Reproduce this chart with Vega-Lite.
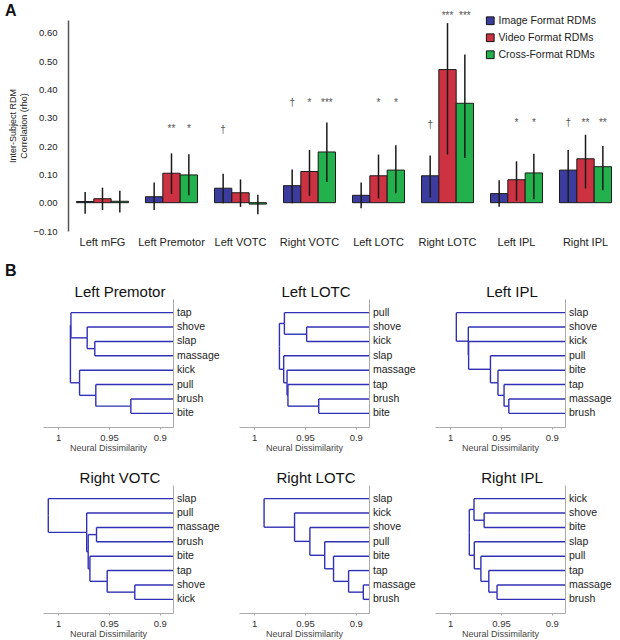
{
  "$schema": "https://vega.github.io/schema/vega-lite/v6.json",
  "padding": {"left": 5, "top": 3, "right": 0, "bottom": 0},
  "config": {
    "font": "Liberation Sans",
    "view": {"stroke": null},
    "title": {"color": "#111", "fontWeight": "normal"},
    "axis": {"labelOverlap": false},
    "axisY": {"labelOverlap": false, "labelSeparation": 0, "labelBound": false},
    "axisXQuantitative": {"domainColor": "#aaa", "domainWidth": 1, "tickColor": "#aaa", "tickSize": 2, "labelFontSize": 9.5, "labelColor": "#333", "labelPadding": 3, "titleFontSize": 9, "titleFontWeight": "normal", "titleColor": "#444", "titlePadding": 2, "grid": false},
    "axisRight": {"labels": false, "ticks": false, "domainColor": "#aaa", "domainWidth": 1, "title": null, "grid": false}
  },
  "datasets": {
    "bars": [
      {"region": "Left mFG", "format": "Image Format RDMs", "rho": 0.004, "lo": -0.039, "hi": 0.038, "sig": "", "sig_y": null},
      {"region": "Left mFG", "format": "Video Format RDMs", "rho": 0.014, "lo": -0.026, "hi": 0.053, "sig": "", "sig_y": null},
      {"region": "Left mFG", "format": "Cross-Format RDMs", "rho": 0.005, "lo": -0.035, "hi": 0.042, "sig": "", "sig_y": null},
      {"region": "Left Premotor", "format": "Image Format RDMs", "rho": 0.021, "lo": -0.026, "hi": 0.071, "sig": "", "sig_y": null},
      {"region": "Left Premotor", "format": "Video Format RDMs", "rho": 0.104, "lo": 0.031, "hi": 0.174, "sig": "**", "sig_y": 0.267},
      {"region": "Left Premotor", "format": "Cross-Format RDMs", "rho": 0.098, "lo": 0.026, "hi": 0.171, "sig": "*", "sig_y": 0.267},
      {"region": "Left VOTC", "format": "Image Format RDMs", "rho": 0.051, "lo": -0.002, "hi": 0.102, "sig": "†", "sig_y": 0.262},
      {"region": "Left VOTC", "format": "Video Format RDMs", "rho": 0.035, "lo": -0.015, "hi": 0.082, "sig": "", "sig_y": null},
      {"region": "Left VOTC", "format": "Cross-Format RDMs", "rho": -0.005, "lo": -0.041, "hi": 0.028, "sig": "", "sig_y": null},
      {"region": "Right VOTC", "format": "Image Format RDMs", "rho": 0.06, "lo": -0.002, "hi": 0.117, "sig": "†", "sig_y": 0.359},
      {"region": "Right VOTC", "format": "Video Format RDMs", "rho": 0.11, "lo": 0.024, "hi": 0.186, "sig": "*", "sig_y": 0.359},
      {"region": "Right VOTC", "format": "Cross-Format RDMs", "rho": 0.179, "lo": 0.073, "hi": 0.283, "sig": "***", "sig_y": 0.359},
      {"region": "Left LOTC", "format": "Image Format RDMs", "rho": 0.026, "lo": -0.02, "hi": 0.071, "sig": "", "sig_y": null},
      {"region": "Left LOTC", "format": "Video Format RDMs", "rho": 0.095, "lo": 0.015, "hi": 0.17, "sig": "*", "sig_y": 0.359},
      {"region": "Left LOTC", "format": "Cross-Format RDMs", "rho": 0.115, "lo": 0.033, "hi": 0.203, "sig": "*", "sig_y": 0.359},
      {"region": "Right LOTC", "format": "Image Format RDMs", "rho": 0.095, "lo": 0.018, "hi": 0.167, "sig": "†", "sig_y": 0.283},
      {"region": "Right LOTC", "format": "Video Format RDMs", "rho": 0.47, "lo": 0.17, "hi": 0.634, "sig": "***", "sig_y": 0.665},
      {"region": "Right LOTC", "format": "Cross-Format RDMs", "rho": 0.351, "lo": 0.158, "hi": 0.523, "sig": "***", "sig_y": 0.665},
      {"region": "Left IPL", "format": "Image Format RDMs", "rho": 0.032, "lo": -0.014, "hi": 0.079, "sig": "", "sig_y": null},
      {"region": "Left IPL", "format": "Video Format RDMs", "rho": 0.081, "lo": 0.007, "hi": 0.146, "sig": "*", "sig_y": 0.287},
      {"region": "Left IPL", "format": "Cross-Format RDMs", "rho": 0.105, "lo": 0.012, "hi": 0.173, "sig": "*", "sig_y": 0.287},
      {"region": "Right IPL", "format": "Image Format RDMs", "rho": 0.115, "lo": 0.002, "hi": 0.186, "sig": "†", "sig_y": 0.287},
      {"region": "Right IPL", "format": "Video Format RDMs", "rho": 0.155, "lo": 0.05, "hi": 0.24, "sig": "**", "sig_y": 0.287},
      {"region": "Right IPL", "format": "Cross-Format RDMs", "rho": 0.127, "lo": 0.044, "hi": 0.2, "sig": "**", "sig_y": 0.287}
    ],
    "links": [
      {"panel": "Left Premotor", "node_h": 0.9285, "child_h": 0.887, "child_pos": 7, "node_pos": 7.5},
      {"panel": "Left Premotor", "node_h": 0.9285, "child_h": 0.887, "child_pos": 8, "node_pos": 7.5},
      {"panel": "Left Premotor", "node_h": 0.963, "child_h": 0.887, "child_pos": 6, "node_pos": 6.75},
      {"panel": "Left Premotor", "node_h": 0.963, "child_h": 0.9285, "child_pos": 7.5, "node_pos": 6.75},
      {"panel": "Left Premotor", "node_h": 0.979, "child_h": 0.887, "child_pos": 5, "node_pos": 5.875},
      {"panel": "Left Premotor", "node_h": 0.979, "child_h": 0.963, "child_pos": 6.75, "node_pos": 5.875},
      {"panel": "Left Premotor", "node_h": 0.964, "child_h": 0.887, "child_pos": 3, "node_pos": 3.5},
      {"panel": "Left Premotor", "node_h": 0.964, "child_h": 0.887, "child_pos": 4, "node_pos": 3.5},
      {"panel": "Left Premotor", "node_h": 0.9715, "child_h": 0.887, "child_pos": 2, "node_pos": 2.75},
      {"panel": "Left Premotor", "node_h": 0.9715, "child_h": 0.964, "child_pos": 3.5, "node_pos": 2.75},
      {"panel": "Left Premotor", "node_h": 0.9875, "child_h": 0.887, "child_pos": 1, "node_pos": 1.875},
      {"panel": "Left Premotor", "node_h": 0.9875, "child_h": 0.9715, "child_pos": 2.75, "node_pos": 1.875},
      {"panel": "Left Premotor", "node_h": 0.988, "child_h": 0.9875, "child_pos": 1.875, "node_pos": 3.875},
      {"panel": "Left Premotor", "node_h": 0.988, "child_h": 0.979, "child_pos": 5.875, "node_pos": 3.875},

      {"panel": "Left LOTC", "node_h": 0.9484, "child_h": 0.887, "child_pos": 2, "node_pos": 2.5},
      {"panel": "Left LOTC", "node_h": 0.9484, "child_h": 0.887, "child_pos": 3, "node_pos": 2.5},
      {"panel": "Left LOTC", "node_h": 0.9703, "child_h": 0.887, "child_pos": 1, "node_pos": 1.75},
      {"panel": "Left LOTC", "node_h": 0.9703, "child_h": 0.9484, "child_pos": 2.5, "node_pos": 1.75},
      {"panel": "Left LOTC", "node_h": 0.9365, "child_h": 0.887, "child_pos": 7, "node_pos": 7.5},
      {"panel": "Left LOTC", "node_h": 0.9365, "child_h": 0.887, "child_pos": 8, "node_pos": 7.5},
      {"panel": "Left LOTC", "node_h": 0.9668, "child_h": 0.887, "child_pos": 6, "node_pos": 6.75},
      {"panel": "Left LOTC", "node_h": 0.9668, "child_h": 0.9365, "child_pos": 7.5, "node_pos": 6.75},
      {"panel": "Left LOTC", "node_h": 0.9677, "child_h": 0.887, "child_pos": 5, "node_pos": 5.875},
      {"panel": "Left LOTC", "node_h": 0.9677, "child_h": 0.9668, "child_pos": 6.75, "node_pos": 5.875},
      {"panel": "Left LOTC", "node_h": 0.971, "child_h": 0.887, "child_pos": 4, "node_pos": 4.9375},
      {"panel": "Left LOTC", "node_h": 0.971, "child_h": 0.9677, "child_pos": 5.875, "node_pos": 4.9375},
      {"panel": "Left LOTC", "node_h": 0.9752, "child_h": 0.9703, "child_pos": 1.75, "node_pos": 3.34375},
      {"panel": "Left LOTC", "node_h": 0.9752, "child_h": 0.971, "child_pos": 4.9375, "node_pos": 3.34375},

      {"panel": "Left IPL", "node_h": 0.9423, "child_h": 0.887, "child_pos": 7, "node_pos": 7.5},
      {"panel": "Left IPL", "node_h": 0.9423, "child_h": 0.887, "child_pos": 8, "node_pos": 7.5},
      {"panel": "Left IPL", "node_h": 0.947, "child_h": 0.887, "child_pos": 6, "node_pos": 6.75},
      {"panel": "Left IPL", "node_h": 0.947, "child_h": 0.9423, "child_pos": 7.5, "node_pos": 6.75},
      {"panel": "Left IPL", "node_h": 0.953, "child_h": 0.887, "child_pos": 5, "node_pos": 5.875},
      {"panel": "Left IPL", "node_h": 0.953, "child_h": 0.947, "child_pos": 6.75, "node_pos": 5.875},
      {"panel": "Left IPL", "node_h": 0.9604, "child_h": 0.887, "child_pos": 4, "node_pos": 4.9375},
      {"panel": "Left IPL", "node_h": 0.9604, "child_h": 0.953, "child_pos": 5.875, "node_pos": 4.9375},
      {"panel": "Left IPL", "node_h": 0.9819, "child_h": 0.887, "child_pos": 3, "node_pos": 3.969},
      {"panel": "Left IPL", "node_h": 0.9819, "child_h": 0.9604, "child_pos": 4.9375, "node_pos": 3.969},
      {"panel": "Left IPL", "node_h": 0.9822, "child_h": 0.887, "child_pos": 2, "node_pos": 2.984},
      {"panel": "Left IPL", "node_h": 0.9822, "child_h": 0.9819, "child_pos": 3.969, "node_pos": 2.984},
      {"panel": "Left IPL", "node_h": 0.994, "child_h": 0.887, "child_pos": 1, "node_pos": 1.992},
      {"panel": "Left IPL", "node_h": 0.994, "child_h": 0.9822, "child_pos": 2.984, "node_pos": 1.992},

      {"panel": "Right VOTC", "node_h": 0.9246, "child_h": 0.887, "child_pos": 7, "node_pos": 7.5},
      {"panel": "Right VOTC", "node_h": 0.9246, "child_h": 0.887, "child_pos": 8, "node_pos": 7.5},
      {"panel": "Right VOTC", "node_h": 0.9518, "child_h": 0.887, "child_pos": 6, "node_pos": 6.75},
      {"panel": "Right VOTC", "node_h": 0.9518, "child_h": 0.9246, "child_pos": 7.5, "node_pos": 6.75},
      {"panel": "Right VOTC", "node_h": 0.9688, "child_h": 0.887, "child_pos": 5, "node_pos": 5.875},
      {"panel": "Right VOTC", "node_h": 0.9688, "child_h": 0.9518, "child_pos": 6.75, "node_pos": 5.875},
      {"panel": "Right VOTC", "node_h": 0.9623, "child_h": 0.887, "child_pos": 3, "node_pos": 3.5},
      {"panel": "Right VOTC", "node_h": 0.9623, "child_h": 0.887, "child_pos": 4, "node_pos": 3.5},
      {"panel": "Right VOTC", "node_h": 0.9705, "child_h": 0.9623, "child_pos": 3.5, "node_pos": 4.6875},
      {"panel": "Right VOTC", "node_h": 0.9705, "child_h": 0.9688, "child_pos": 5.875, "node_pos": 4.6875},
      {"panel": "Right VOTC", "node_h": 0.972, "child_h": 0.887, "child_pos": 2, "node_pos": 3.34375},
      {"panel": "Right VOTC", "node_h": 0.972, "child_h": 0.9705, "child_pos": 4.6875, "node_pos": 3.34375},
      {"panel": "Right VOTC", "node_h": 1.0098, "child_h": 0.887, "child_pos": 1, "node_pos": 2.171875},
      {"panel": "Right VOTC", "node_h": 1.0098, "child_h": 0.972, "child_pos": 3.34375, "node_pos": 2.171875},

      {"panel": "Right LOTC", "node_h": 0.8926, "child_h": 0.887, "child_pos": 7, "node_pos": 7.5},
      {"panel": "Right LOTC", "node_h": 0.8926, "child_h": 0.887, "child_pos": 8, "node_pos": 7.5},
      {"panel": "Right LOTC", "node_h": 0.9071, "child_h": 0.887, "child_pos": 6, "node_pos": 6.75},
      {"panel": "Right LOTC", "node_h": 0.9071, "child_h": 0.8926, "child_pos": 7.5, "node_pos": 6.75},
      {"panel": "Right LOTC", "node_h": 0.9219, "child_h": 0.887, "child_pos": 5, "node_pos": 5.875},
      {"panel": "Right LOTC", "node_h": 0.9219, "child_h": 0.9071, "child_pos": 6.75, "node_pos": 5.875},
      {"panel": "Right LOTC", "node_h": 0.9306, "child_h": 0.887, "child_pos": 4, "node_pos": 4.9375},
      {"panel": "Right LOTC", "node_h": 0.9306, "child_h": 0.9219, "child_pos": 5.875, "node_pos": 4.9375},
      {"panel": "Right LOTC", "node_h": 0.9452, "child_h": 0.887, "child_pos": 3, "node_pos": 3.969},
      {"panel": "Right LOTC", "node_h": 0.9452, "child_h": 0.9306, "child_pos": 4.9375, "node_pos": 3.969},
      {"panel": "Right LOTC", "node_h": 0.9603, "child_h": 0.887, "child_pos": 2, "node_pos": 2.984},
      {"panel": "Right LOTC", "node_h": 0.9603, "child_h": 0.9452, "child_pos": 3.969, "node_pos": 2.984},
      {"panel": "Right LOTC", "node_h": 0.9903, "child_h": 0.887, "child_pos": 1, "node_pos": 1.992},
      {"panel": "Right LOTC", "node_h": 0.9903, "child_h": 0.9603, "child_pos": 2.984, "node_pos": 1.992},

      {"panel": "Right IPL", "node_h": 0.9539, "child_h": 0.887, "child_pos": 7, "node_pos": 7.5},
      {"panel": "Right IPL", "node_h": 0.9539, "child_h": 0.887, "child_pos": 8, "node_pos": 7.5},
      {"panel": "Right IPL", "node_h": 0.962, "child_h": 0.887, "child_pos": 6, "node_pos": 6.75},
      {"panel": "Right IPL", "node_h": 0.962, "child_h": 0.9539, "child_pos": 7.5, "node_pos": 6.75},
      {"panel": "Right IPL", "node_h": 0.9698, "child_h": 0.887, "child_pos": 5, "node_pos": 5.875},
      {"panel": "Right IPL", "node_h": 0.9698, "child_h": 0.962, "child_pos": 6.75, "node_pos": 5.875},
      {"panel": "Right IPL", "node_h": 0.9763, "child_h": 0.887, "child_pos": 4, "node_pos": 4.9375},
      {"panel": "Right IPL", "node_h": 0.9763, "child_h": 0.9698, "child_pos": 5.875, "node_pos": 4.9375},
      {"panel": "Right IPL", "node_h": 0.9666, "child_h": 0.887, "child_pos": 2, "node_pos": 2.5},
      {"panel": "Right IPL", "node_h": 0.9666, "child_h": 0.887, "child_pos": 3, "node_pos": 2.5},
      {"panel": "Right IPL", "node_h": 0.9766, "child_h": 0.887, "child_pos": 1, "node_pos": 1.75},
      {"panel": "Right IPL", "node_h": 0.9766, "child_h": 0.9666, "child_pos": 2.5, "node_pos": 1.75},
      {"panel": "Right IPL", "node_h": 0.9812, "child_h": 0.9766, "child_pos": 1.75, "node_pos": 3.34375},
      {"panel": "Right IPL", "node_h": 0.9812, "child_h": 0.9763, "child_pos": 4.9375, "node_pos": 3.34375}
    ],
    "leaves": [
      {"panel": "Left Premotor", "leaf": "tap", "pos": 1},
      {"panel": "Left Premotor", "leaf": "shove", "pos": 2},
      {"panel": "Left Premotor", "leaf": "slap", "pos": 3},
      {"panel": "Left Premotor", "leaf": "massage", "pos": 4},
      {"panel": "Left Premotor", "leaf": "kick", "pos": 5},
      {"panel": "Left Premotor", "leaf": "pull", "pos": 6},
      {"panel": "Left Premotor", "leaf": "brush", "pos": 7},
      {"panel": "Left Premotor", "leaf": "bite", "pos": 8},
      {"panel": "Left LOTC", "leaf": "pull", "pos": 1},
      {"panel": "Left LOTC", "leaf": "shove", "pos": 2},
      {"panel": "Left LOTC", "leaf": "kick", "pos": 3},
      {"panel": "Left LOTC", "leaf": "slap", "pos": 4},
      {"panel": "Left LOTC", "leaf": "massage", "pos": 5},
      {"panel": "Left LOTC", "leaf": "tap", "pos": 6},
      {"panel": "Left LOTC", "leaf": "brush", "pos": 7},
      {"panel": "Left LOTC", "leaf": "bite", "pos": 8},
      {"panel": "Left IPL", "leaf": "slap", "pos": 1},
      {"panel": "Left IPL", "leaf": "shove", "pos": 2},
      {"panel": "Left IPL", "leaf": "kick", "pos": 3},
      {"panel": "Left IPL", "leaf": "pull", "pos": 4},
      {"panel": "Left IPL", "leaf": "bite", "pos": 5},
      {"panel": "Left IPL", "leaf": "tap", "pos": 6},
      {"panel": "Left IPL", "leaf": "massage", "pos": 7},
      {"panel": "Left IPL", "leaf": "brush", "pos": 8},
      {"panel": "Right VOTC", "leaf": "slap", "pos": 1},
      {"panel": "Right VOTC", "leaf": "pull", "pos": 2},
      {"panel": "Right VOTC", "leaf": "massage", "pos": 3},
      {"panel": "Right VOTC", "leaf": "brush", "pos": 4},
      {"panel": "Right VOTC", "leaf": "bite", "pos": 5},
      {"panel": "Right VOTC", "leaf": "tap", "pos": 6},
      {"panel": "Right VOTC", "leaf": "shove", "pos": 7},
      {"panel": "Right VOTC", "leaf": "kick", "pos": 8},
      {"panel": "Right LOTC", "leaf": "slap", "pos": 1},
      {"panel": "Right LOTC", "leaf": "kick", "pos": 2},
      {"panel": "Right LOTC", "leaf": "shove", "pos": 3},
      {"panel": "Right LOTC", "leaf": "pull", "pos": 4},
      {"panel": "Right LOTC", "leaf": "bite", "pos": 5},
      {"panel": "Right LOTC", "leaf": "tap", "pos": 6},
      {"panel": "Right LOTC", "leaf": "massage", "pos": 7},
      {"panel": "Right LOTC", "leaf": "brush", "pos": 8},
      {"panel": "Right IPL", "leaf": "kick", "pos": 1},
      {"panel": "Right IPL", "leaf": "shove", "pos": 2},
      {"panel": "Right IPL", "leaf": "bite", "pos": 3},
      {"panel": "Right IPL", "leaf": "slap", "pos": 4},
      {"panel": "Right IPL", "leaf": "pull", "pos": 5},
      {"panel": "Right IPL", "leaf": "tap", "pos": 6},
      {"panel": "Right IPL", "leaf": "massage", "pos": 7},
      {"panel": "Right IPL", "leaf": "brush", "pos": 8}
    ]
  },
  "spacing": 16,
  "vconcat": [
    {
      "width": 577,
      "height": 211,
      "title": {"text": "A", "anchor": "start", "frame": "group", "fontSize": 16, "fontWeight": "bold", "dx": -38, "offset": -8},
      "data": {"name": "bars"},
      "encoding": {
        "x": {"field": "region", "type": "nominal", "sort": null,
              "scale": {"paddingInner": 0.246, "paddingOuter": 0.304, "align": 0.798},
              "axis": {"title": null, "domain": false, "ticks": false, "labelFontSize": 11, "labelColor": "#222", "labelPadding": 5, "labelAngle": 0}},
        "y": {"field": "rho", "type": "quantitative",
              "scale": {"domain": [-0.1, 0.645], "nice": false},
              "axis": {"title": ["Inter-Subject RDM", "Correlation (rho)"], "titleFontSize": 9, "titleFontWeight": "normal", "titleColor": "#222", "titlePadding": 4, "titleLineHeight": 11,
                       "values": [-0.1, 0, 0.1, 0.2, 0.3, 0.4, 0.5, 0.6], "labelOverlap": false, "labelSeparation": 0,
                       "format": ".2f",
                       "labelFontSize": 9.5, "labelColor": "#222", "labelPadding": 11, "ticks": false,
                       "domainColor": "#555", "domainWidth": 1.5, "grid": false, "offset": -25}}
      },
      "layer": [
        {
          "mark": {"type": "bar", "stroke": "#1a1a1a", "strokeWidth": 1},
          "encoding": {
            "xOffset": {"field": "format", "type": "nominal", "sort": ["Image Format RDMs", "Video Format RDMs", "Cross-Format RDMs"], "scale": {"paddingInner": 0, "paddingOuter": 0}},
            "y2": {"datum": 0},
            "color": {"field": "format", "type": "nominal",
                      "scale": {"domain": ["Image Format RDMs", "Video Format RDMs", "Cross-Format RDMs"], "range": ["#3c3c9e", "#cd3242", "#22b14c"]},
                      "legend": {"orient": "none", "legendX": 442, "legendY": -4.5, "title": null, "symbolType": "square", "symbolSize": 60, "symbolStrokeColor": "#111", "symbolStrokeWidth": 1, "labelFontSize": 10.5, "labelColor": "#222", "rowPadding": 4, "labelOffset": 3}}
          }
        },
        {
          "mark": {"type": "rule", "color": "#1a1a1a", "strokeWidth": 1.5},
          "encoding": {
            "xOffset": {"field": "format", "type": "nominal", "sort": ["Image Format RDMs", "Video Format RDMs", "Cross-Format RDMs"]},
            "y": {"field": "lo", "type": "quantitative", "axis": {"title": ["Inter-Subject RDM", "Correlation (rho)"], "values": [-0.1, 0, 0.1, 0.2, 0.3, 0.4, 0.5, 0.6], "labelOverlap": false, "format": ".2f"}},
            "y2": {"field": "hi"}
          }
        },
        {
          "transform": [{"filter": "datum.sig"}],
          "mark": {"type": "text", "fontSize": 10, "fill": "#555", "baseline": "middle", "dy": 2},
          "encoding": {
            "xOffset": {"field": "format", "type": "nominal", "sort": ["Image Format RDMs", "Video Format RDMs", "Cross-Format RDMs"]},
            "y": {"field": "sig_y", "type": "quantitative", "axis": {"title": ["Inter-Subject RDM", "Correlation (rho)"], "values": [-0.1, 0, 0.1, 0.2, 0.3, 0.4, 0.5, 0.6], "labelOverlap": false, "format": ".2f"}},
            "text": {"field": "sig"}
          }
        },
        {
          "data": {"values": [{}]},
          "mark": {"type": "rule", "color": "#333", "strokeWidth": 1.5},
          "encoding": {
            "x": {"datum": "Left mFG", "bandPosition": -0.1635},
            "x2": {"datum": "Right IPL", "bandPosition": 1.1635},
            "y": {"datum": 0}
          }
        }
      ]
    },
    {
      "title": {"text": "B", "anchor": "start", "frame": "group", "fontSize": 16, "fontWeight": "bold", "dx": -38, "offset": 6},
      "spacing": 18,
      "vconcat": [
        {
          "spacing": 66,
          "bounds": "flush",
          "hconcat": [
            {"width": 130, "height": 128, "title": {"text": "Left Premotor", "fontSize": 15, "dx": 12, "offset": -1},
             "layer": [
               {"data": {"name": "links"}, "transform": [{"filter": {"field": "panel", "equal": "Left Premotor"}}], "mark": {"type": "rule", "color": "#3030b4", "strokeWidth": 1.4},
                "encoding": {"x": {"field": "node_h", "type": "quantitative", "scale": {"domain": [0.887, 1.015], "reverse": true, "nice": false, "zero": false}, "axis": {"title": "Neural Dissimilarity", "values": [1, 0.95, 0.9], "format": "~g"}},
                             "x2": {"field": "child_h"},
                             "y": {"field": "child_pos", "type": "quantitative", "scale": {"domain": [0.05, 8.95], "reverse": true, "nice": false, "zero": false}, "axis": {"orient": "right"}}}},
               {"data": {"name": "links"}, "transform": [{"filter": {"field": "panel", "equal": "Left Premotor"}}], "mark": {"type": "rule", "color": "#3030b4", "strokeWidth": 1.4},
                "encoding": {"x": {"field": "node_h", "type": "quantitative"}, "y": {"field": "child_pos", "type": "quantitative", "axis": {"orient": "right"}}, "y2": {"field": "node_pos"}}},
               {"data": {"name": "leaves"}, "transform": [{"filter": {"field": "panel", "equal": "Left Premotor"}}], "mark": {"type": "text", "align": "left", "dx": 4, "fontSize": 10.5, "color": "#222", "baseline": "middle"},
                "encoding": {"x": {"datum": 0.887, "type": "quantitative"}, "y": {"field": "pos", "type": "quantitative", "axis": {"orient": "right"}}, "text": {"field": "leaf"}}}
             ]},
            {"width": 130, "height": 128, "title": {"text": "Left LOTC", "fontSize": 15, "dx": 12, "offset": -1},
             "layer": [
               {"data": {"name": "links"}, "transform": [{"filter": {"field": "panel", "equal": "Left LOTC"}}], "mark": {"type": "rule", "color": "#3030b4", "strokeWidth": 1.4},
                "encoding": {"x": {"field": "node_h", "type": "quantitative", "scale": {"domain": [0.887, 1.015], "reverse": true, "nice": false, "zero": false}, "axis": {"title": "Neural Dissimilarity", "values": [1, 0.95, 0.9], "format": "~g"}},
                             "x2": {"field": "child_h"},
                             "y": {"field": "child_pos", "type": "quantitative", "scale": {"domain": [0.05, 8.95], "reverse": true, "nice": false, "zero": false}, "axis": {"orient": "right"}}}},
               {"data": {"name": "links"}, "transform": [{"filter": {"field": "panel", "equal": "Left LOTC"}}], "mark": {"type": "rule", "color": "#3030b4", "strokeWidth": 1.4},
                "encoding": {"x": {"field": "node_h", "type": "quantitative"}, "y": {"field": "child_pos", "type": "quantitative", "axis": {"orient": "right"}}, "y2": {"field": "node_pos"}}},
               {"data": {"name": "leaves"}, "transform": [{"filter": {"field": "panel", "equal": "Left LOTC"}}], "mark": {"type": "text", "align": "left", "dx": 4, "fontSize": 10.5, "color": "#222", "baseline": "middle"},
                "encoding": {"x": {"datum": 0.887, "type": "quantitative"}, "y": {"field": "pos", "type": "quantitative", "axis": {"orient": "right"}}, "text": {"field": "leaf"}}}
             ]},
            {"width": 130, "height": 128, "title": {"text": "Left IPL", "fontSize": 15, "dx": 12, "offset": -1},
             "layer": [
               {"data": {"name": "links"}, "transform": [{"filter": {"field": "panel", "equal": "Left IPL"}}], "mark": {"type": "rule", "color": "#3030b4", "strokeWidth": 1.4},
                "encoding": {"x": {"field": "node_h", "type": "quantitative", "scale": {"domain": [0.887, 1.015], "reverse": true, "nice": false, "zero": false}, "axis": {"title": "Neural Dissimilarity", "values": [1, 0.95, 0.9], "format": "~g"}},
                             "x2": {"field": "child_h"},
                             "y": {"field": "child_pos", "type": "quantitative", "scale": {"domain": [0.05, 8.95], "reverse": true, "nice": false, "zero": false}, "axis": {"orient": "right"}}}},
               {"data": {"name": "links"}, "transform": [{"filter": {"field": "panel", "equal": "Left IPL"}}], "mark": {"type": "rule", "color": "#3030b4", "strokeWidth": 1.4},
                "encoding": {"x": {"field": "node_h", "type": "quantitative"}, "y": {"field": "child_pos", "type": "quantitative", "axis": {"orient": "right"}}, "y2": {"field": "node_pos"}}},
               {"data": {"name": "leaves"}, "transform": [{"filter": {"field": "panel", "equal": "Left IPL"}}], "mark": {"type": "text", "align": "left", "dx": 4, "fontSize": 10.5, "color": "#222", "baseline": "middle"},
                "encoding": {"x": {"datum": 0.887, "type": "quantitative"}, "y": {"field": "pos", "type": "quantitative", "axis": {"orient": "right"}}, "text": {"field": "leaf"}}}
             ]}
          ]
        },
        {
          "spacing": 66,
          "bounds": "flush",
          "hconcat": [
            {"width": 130, "height": 128, "title": {"text": "Right VOTC", "fontSize": 15, "dx": 12, "offset": -1},
             "layer": [
               {"data": {"name": "links"}, "transform": [{"filter": {"field": "panel", "equal": "Right VOTC"}}], "mark": {"type": "rule", "color": "#3030b4", "strokeWidth": 1.4},
                "encoding": {"x": {"field": "node_h", "type": "quantitative", "scale": {"domain": [0.887, 1.015], "reverse": true, "nice": false, "zero": false}, "axis": {"title": "Neural Dissimilarity", "values": [1, 0.95, 0.9], "format": "~g"}},
                             "x2": {"field": "child_h"},
                             "y": {"field": "child_pos", "type": "quantitative", "scale": {"domain": [0.05, 8.95], "reverse": true, "nice": false, "zero": false}, "axis": {"orient": "right"}}}},
               {"data": {"name": "links"}, "transform": [{"filter": {"field": "panel", "equal": "Right VOTC"}}], "mark": {"type": "rule", "color": "#3030b4", "strokeWidth": 1.4},
                "encoding": {"x": {"field": "node_h", "type": "quantitative"}, "y": {"field": "child_pos", "type": "quantitative", "axis": {"orient": "right"}}, "y2": {"field": "node_pos"}}},
               {"data": {"name": "leaves"}, "transform": [{"filter": {"field": "panel", "equal": "Right VOTC"}}], "mark": {"type": "text", "align": "left", "dx": 4, "fontSize": 10.5, "color": "#222", "baseline": "middle"},
                "encoding": {"x": {"datum": 0.887, "type": "quantitative"}, "y": {"field": "pos", "type": "quantitative", "axis": {"orient": "right"}}, "text": {"field": "leaf"}}}
             ]},
            {"width": 130, "height": 128, "title": {"text": "Right LOTC", "fontSize": 15, "dx": 12, "offset": -1},
             "layer": [
               {"data": {"name": "links"}, "transform": [{"filter": {"field": "panel", "equal": "Right LOTC"}}], "mark": {"type": "rule", "color": "#3030b4", "strokeWidth": 1.4},
                "encoding": {"x": {"field": "node_h", "type": "quantitative", "scale": {"domain": [0.887, 1.015], "reverse": true, "nice": false, "zero": false}, "axis": {"title": "Neural Dissimilarity", "values": [1, 0.95, 0.9], "format": "~g"}},
                             "x2": {"field": "child_h"},
                             "y": {"field": "child_pos", "type": "quantitative", "scale": {"domain": [0.05, 8.95], "reverse": true, "nice": false, "zero": false}, "axis": {"orient": "right"}}}},
               {"data": {"name": "links"}, "transform": [{"filter": {"field": "panel", "equal": "Right LOTC"}}], "mark": {"type": "rule", "color": "#3030b4", "strokeWidth": 1.4},
                "encoding": {"x": {"field": "node_h", "type": "quantitative"}, "y": {"field": "child_pos", "type": "quantitative", "axis": {"orient": "right"}}, "y2": {"field": "node_pos"}}},
               {"data": {"name": "leaves"}, "transform": [{"filter": {"field": "panel", "equal": "Right LOTC"}}], "mark": {"type": "text", "align": "left", "dx": 4, "fontSize": 10.5, "color": "#222", "baseline": "middle"},
                "encoding": {"x": {"datum": 0.887, "type": "quantitative"}, "y": {"field": "pos", "type": "quantitative", "axis": {"orient": "right"}}, "text": {"field": "leaf"}}}
             ]},
            {"width": 130, "height": 128, "title": {"text": "Right IPL", "fontSize": 15, "dx": 12, "offset": -1},
             "layer": [
               {"data": {"name": "links"}, "transform": [{"filter": {"field": "panel", "equal": "Right IPL"}}], "mark": {"type": "rule", "color": "#3030b4", "strokeWidth": 1.4},
                "encoding": {"x": {"field": "node_h", "type": "quantitative", "scale": {"domain": [0.887, 1.015], "reverse": true, "nice": false, "zero": false}, "axis": {"title": "Neural Dissimilarity", "values": [1, 0.95, 0.9], "format": "~g"}},
                             "x2": {"field": "child_h"},
                             "y": {"field": "child_pos", "type": "quantitative", "scale": {"domain": [0.05, 8.95], "reverse": true, "nice": false, "zero": false}, "axis": {"orient": "right"}}}},
               {"data": {"name": "links"}, "transform": [{"filter": {"field": "panel", "equal": "Right IPL"}}], "mark": {"type": "rule", "color": "#3030b4", "strokeWidth": 1.4},
                "encoding": {"x": {"field": "node_h", "type": "quantitative"}, "y": {"field": "child_pos", "type": "quantitative", "axis": {"orient": "right"}}, "y2": {"field": "node_pos"}}},
               {"data": {"name": "leaves"}, "transform": [{"filter": {"field": "panel", "equal": "Right IPL"}}], "mark": {"type": "text", "align": "left", "dx": 4, "fontSize": 10.5, "color": "#222", "baseline": "middle"},
                "encoding": {"x": {"datum": 0.887, "type": "quantitative"}, "y": {"field": "pos", "type": "quantitative", "axis": {"orient": "right"}}, "text": {"field": "leaf"}}}
             ]}
          ]
        }
      ]
    }
  ]
}
